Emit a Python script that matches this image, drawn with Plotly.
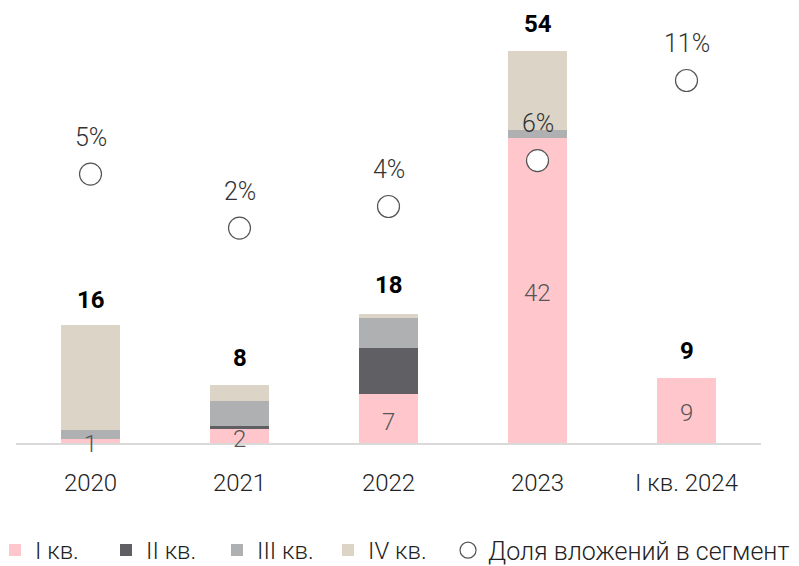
import plotly.graph_objects as go

categories = ["2020", "2021", "2022", "2023", "I кв. 2024"]
q1 = [0.6, 1.9, 6.7, 42.0, 9.0]
q2 = [0.0, 0.4, 6.4, 0.0, 0.0]
q3 = [1.2, 3.5, 4.1, 1.0, 0.0]
q4 = [14.4, 2.2, 0.5, 11.0, 0.0]
totals = [16, 8, 18, 54, 9]
share = [5.4, 2.4, 3.6, 6.15, 10.6]

series_names = ["I кв.", "II кв.", "III кв.", "IV кв."]
colors = ["#FFC6CC", "#5F5F64", "#AFB0B2", "#DBD4C7"]

FONT = "Roboto"

fig = go.Figure()
for name, vals, col in zip(series_names, [q1, q2, q3, q4], colors):
    fig.add_trace(go.Bar(x=categories, y=vals, name=name, marker=dict(color=col, line=dict(width=0)),
                         hoverinfo="skip", legend="legend"))

# share markers
fig.add_trace(go.Scatter(x=categories, y=share, mode="markers", yaxis="y2",
                         name="Доля вложений в сегмент", legend="legend2",
                         marker=dict(size=22, color="white", line=dict(color="#555555", width=1.2)),
                         hoverinfo="skip", cliponaxis=False))

annotations = []
# annotations on a category axis use the category index
for i, v in enumerate(q1):
    annotations.append(dict(x=i, y=v / 2, xref="x", yref="y", text=f"{v:.0f}", showarrow=False,
                            yanchor="middle", yshift=-3,
                            font=dict(size=24, color="#555555", family=FONT, weight=300)))
for i, t in enumerate(totals):
    annotations.append(dict(x=i, y=t, xref="x", yref="y", text=str(t), showarrow=False,
                            yanchor="middle", yshift=27,
                            font=dict(size=24, color="#000000", family=FONT, weight=700)))
for i, s in enumerate(share):
    annotations.append(dict(x=i, y=s, xref="x", yref="y2", text=f"{s:.0f}%", showarrow=False,
                            yanchor="middle", yshift=37,
                            font=dict(size=25, color="#333333", family=FONT, weight=300)))

fig.update_layout(
    width=791, height=558,
    barmode="stack", bargap=0.6,
    plot_bgcolor="white", paper_bgcolor="white",
    margin=dict(l=8, r=38, t=12, b=123, autoexpand=False),
    font=dict(family=FONT, size=22, color="#222222", weight=300),
    xaxis=dict(type="category", range=[-0.5, len(categories) - 0.5], showline=True,
               linecolor="#D9D9D9", linewidth=2, ticks="outside", ticklen=17,
               tickcolor="rgba(0,0,0,0)", tickfont=dict(size=24, color="#222222", family=FONT, weight=300),
               showgrid=False),
    yaxis=dict(range=[0, 58.2], visible=False, showgrid=False),
    yaxis2=dict(range=[-9.54, 13.96], overlaying="y", visible=False, showgrid=False),
    legend=dict(orientation="h", xref="container", yref="container", x=0, xanchor="left",
                y=0.028, yanchor="middle", indentation=-13,
                font=dict(size=24, color="#222222", family=FONT, weight=300),
                itemwidth=30, entrywidth=79, traceorder="normal"),
    legend2=dict(orientation="h", xref="container", yref="container", x=0.5563, xanchor="left",
                 y=0.028, yanchor="middle",
                 font=dict(size=25, color="#222222", family=FONT, weight=300),
                 itemwidth=30),
    annotations=annotations,
    showlegend=True,
)

fig.write_html("out.html")
